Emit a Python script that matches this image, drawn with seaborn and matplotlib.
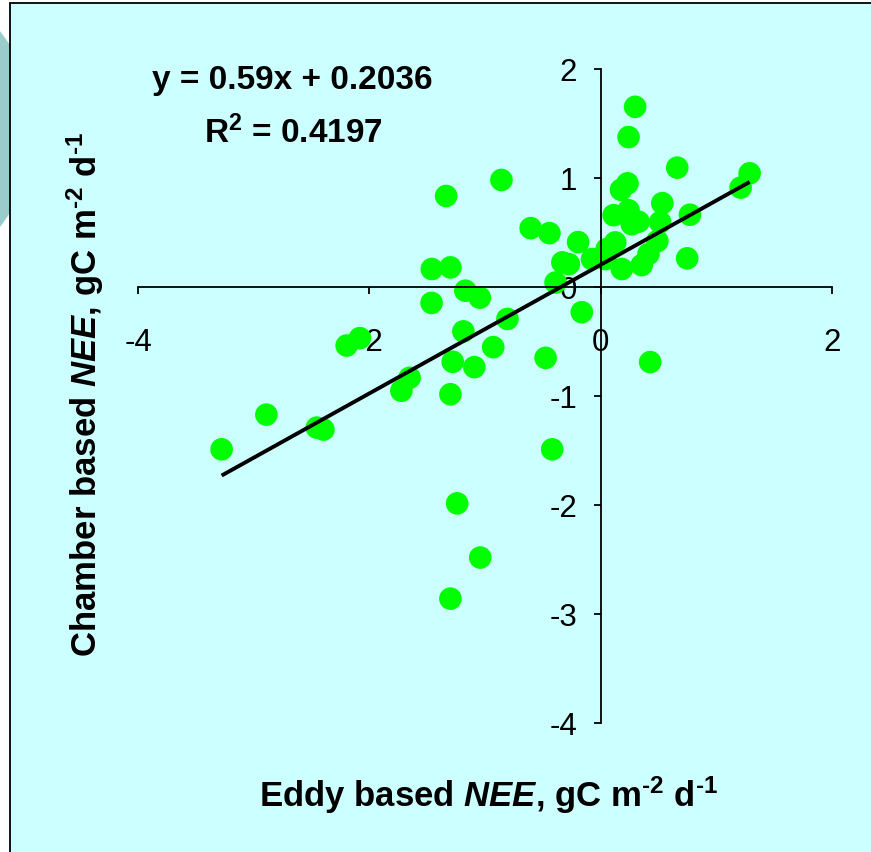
import numpy as np
import matplotlib
matplotlib.use("Agg")
import matplotlib.pyplot as plt
from matplotlib.patches import Circle, Rectangle
import seaborn as sns

# ---- data ----
eddy = [-1.336, -0.858, 0.662, 1.288, 1.210, 0.232, 0.176, 0.533, 0.112, 0.241,
        0.772, 0.327, 0.269, 0.514, -0.605, -0.443, -0.195, 0.126, 0.490, 0.052,
        0.413, 0.748, -0.331, -0.275, -0.075, 0.040, 0.183, 0.355, -1.460, -1.299,
        -0.390, -1.170, -1.045, -1.462, -0.163, -0.806, -1.187, -0.929, -0.476, 0.428,
        -1.279, -1.092, -1.652, -1.723, -1.299, -2.196, -2.082, -2.890, -3.277, -2.454,
        -2.397, -0.419, -1.241, -1.041, -1.299, 0.298, 0.241]
chamber = [0.835, 0.982, 1.095, 1.043, 0.912, 0.951, 0.892, 0.769, 0.659, 0.704,
           0.663, 0.599, 0.576, 0.595, 0.540, 0.494, 0.412, 0.409, 0.421, 0.348,
           0.302, 0.263, 0.226, 0.210, 0.256, 0.256, 0.165, 0.201, 0.165, 0.180,
           0.041, -0.034, -0.098, -0.146, -0.231, -0.293, -0.407, -0.552, -0.650, -0.689,
           -0.686, -0.735, -0.833, -0.952, -0.984, -0.537, -0.469, -1.171, -1.489, -1.290,
           -1.308, -1.489, -1.985, -2.482, -2.859, 1.653, 1.375]
slope = 0.59
intercept = 0.2036
r2 = 0.4197
xticks = [-4, -2, 0, 2]
yticks = [-4, -3, -2, -1, 0, 1, 2]

sns.set_style("ticks")
plt.rcParams['font.family'] = ['Liberation Sans', 'DejaVu Sans']
plt.rcParams['axes.unicode_minus'] = False
plt.rcParams['text.color'] = 'black'
plt.rcParams['mathtext.fontset'] = 'custom'
plt.rcParams['mathtext.rm'] = 'Liberation Sans:bold'
plt.rcParams['mathtext.bf'] = 'Liberation Sans:bold'
plt.rcParams['mathtext.it'] = 'Liberation Sans:bold:italic'

W, H = 871, 853
fig = plt.figure(figsize=(W / 100, H / 100), dpi=100, facecolor='white')

# decorative background
fig.patches.append(Circle((-130 / W, 1 - 130 / H), 164 / W, transform=fig.transFigure,
                          facecolor='#9BCCCC', edgecolor='none', zorder=-3))
fig.patches.append(Rectangle((10 / W, -0.01), 1.0, 1 - 4 / H + 0.01, transform=fig.transFigure,
                             facecolor='#CCFFFF', edgecolor='black', linewidth=1.3, zorder=-2))

left, right = 138 / W, 832 / W
top, bottom = 1 - 70 / H, 1 - 724 / H
ax = fig.add_axes([left, bottom, right - left, top - bottom])
ax.set_facecolor('none')
ax.set_zorder(1)

sns.scatterplot(x=eddy, y=chamber, ax=ax, s=265, color='#00FF00',
                edgecolor='none', linewidth=0, zorder=1)
xl = np.array([min(eddy), max(eddy)])
ax.plot(xl, slope * xl + intercept, color='black', linewidth=2.8, zorder=2,
        solid_capstyle='butt')

ax.set_xlim(-4, 2)
ax.set_ylim(-4, 2)
ax.set_xticks(xticks)
ax.set_yticks(yticks)
ax.set_xticklabels([str(t) for t in xticks])
ax.set_yticklabels([str(t) for t in yticks])
for s in ['top', 'right']:
    ax.spines[s].set_visible(False)
ax.spines['left'].set_position(('data', 0))
ax.spines['bottom'].set_position(('data', 0))
for s in ['left', 'bottom']:
    ax.spines[s].set_linewidth(1.3)
    ax.spines[s].set_color('black')
ax.tick_params(axis='x', direction='out', length=5, width=1.3, pad=24,
               labelsize=22.5, colors='black')
ax.tick_params(axis='y', direction='out', length=5, width=1.3, pad=12,
               labelsize=22.5, colors='black')
ax.set_xlabel('')
ax.set_ylabel('')

unit = r', gC m$^{\text{-2}}$ d$^{\text{-1}}$'
fig.text(489 / W, 1 - 795 / H, r'Eddy based $\mathit{NEE}$' + unit,
         ha='center', va='center', fontsize=25, fontweight='bold', color='black')
fig.text(85 / W, 1 - 395 / H, r'Chamber based $\mathit{NEE}$' + unit,
         ha='center', va='center', fontsize=25, fontweight='bold', rotation=90, color='black')
fig.text(292 / W, 1 - 80 / H, f'y = {slope}x + {intercept}',
         ha='center', va='center', fontsize=24, fontweight='bold', color='black')
fig.text(293 / W, 1 - 133 / H, r'R$^{2}$ = ' + f'{r2}',
         ha='center', va='center', fontsize=24, fontweight='bold', color='black')

fig.savefig('out.png', dpi=100, facecolor='white')
